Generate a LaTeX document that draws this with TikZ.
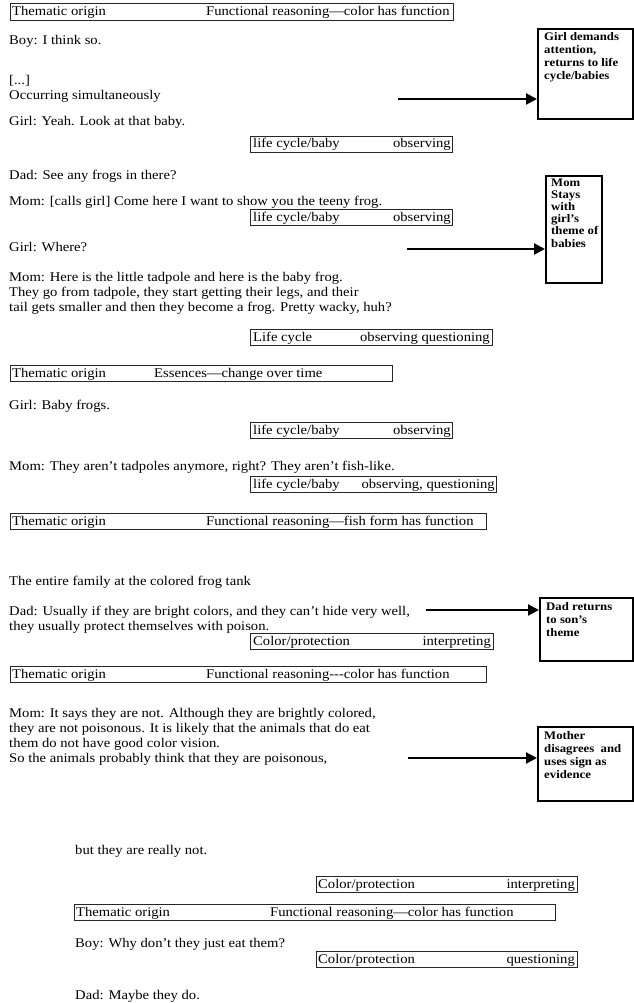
\documentclass[tikz,border=0pt]{standalone}
\usepackage{fontspec}
\setmainfont{Liberation Serif}[FakeStretch=1.1]
\usetikzlibrary{arrows.meta}
\newcommand\dlgfont{\fontsize{13.3}{15}\selectfont}
\newcommand\notefont{\fontsize{11.6}{13}\selectfont\bfseries}
\tikzset{
  dlg/.style={anchor=base west, inner sep=0pt, font=\dlgfont},
  tagbox/.style={draw=black!85, line width=0.9pt, anchor=north west, inner sep=0pt},
  tagl/.style={anchor=base west, inner sep=0pt, font=\dlgfont},
  tagr/.style={anchor=base east, inner sep=0pt, font=\dlgfont},
  notebox/.style={draw=black, line width=2pt, anchor=north west, inner sep=0pt},
  notetxt/.style={anchor=base west, inner sep=0pt, font=\notefont},
  arr/.style={line width=2.2pt, -{Triangle[length=11pt,width=11pt]}}
}
\begin{document}
\begin{tikzpicture}[x=1pt,y=-1pt]
\useasboundingbox (0,0) rectangle (633,1003);
\fill[white] (0,0) rectangle (633,1003);

% ---------- top thematic box
\node[tagbox, minimum width=443, minimum height=17] (t1) at (10,3) {};
\node[tagl] (t1a) at (12,16) {Thematic origin};
\node[tagl] (t1b) at (206,16) {Functional reasoning---color has function};

\node[dlg] (d1) at (9,45) {Boy: I think so.};
\node[dlg] (d2) at (9,85) {[...]};
\node[dlg] (d3) at (9,100) {Occurring simultaneously};

% note A
\node[notebox, minimum width=95, minimum height=90] (nA) at (537,28) {};
\node[notetxt] (nA1) at (544,41) {Girl demands};
\node[notetxt] (nA2) at (544,54) {attention,};
\node[notetxt] (nA3) at (544,67) {returns to life};
\node[notetxt] (nA4) at (544,80) {cycle/babies};
\coordinate (sA) at (398,99);
\draw[arr] (sA) -- (sA -| nA.west);

\node[dlg] (d4) at (9,126) {Girl: Yeah. Look at that baby.};
\node[tagbox, minimum width=202, minimum height=16] (l1) at (250,136) {};
\node[tagl] (l1a) at (253,148) {life cycle/baby};
\node[tagr] (l1b) at (451,148) {observing};

\node[dlg] (d5) at (9,179) {Dad: See any frogs in there?};
\node[dlg] (d6) at (9,205) {Mom: [calls girl] Come here I want to show you the teeny frog.};
\node[tagbox, minimum width=202, minimum height=16] (l2) at (250,209) {};
\node[tagl] (l2a) at (253,221) {life cycle/baby};
\node[tagr] (l2b) at (451,221) {observing};

% note B
\node[notebox, minimum width=56, minimum height=107] (nB) at (545,175) {};
\node[notetxt] (nB1) at (551,186) {Mom};
\node[notetxt] (nB2) at (551,198.2) {Stays};
\node[notetxt] (nB3) at (551,210.4) {with};
\node[notetxt] (nB4) at (551,222.6) {girl’s};
\node[notetxt] (nB5) at (551,234.8) {theme of};
\node[notetxt] (nB6) at (551,247) {babies};
\coordinate (sB) at (407,249);
\draw[arr] (sB) -- (sB -| nB.west);

\node[dlg] (d7) at (9,251) {Girl: Where?};
\node[dlg] (d8) at (9,281) {Mom: Here is the little tadpole and here is the baby frog.};
\node[dlg] (d9) at (9,296) {They go from tadpole, they start getting their legs, and their};
\node[dlg] (d10) at (9,311) {tail gets smaller and then they become a frog. Pretty wacky, huh?};

\node[tagbox, minimum width=242, minimum height=16] (lc) at (250,329) {};
\node[tagl] (lca) at (253,341) {Life cycle};
\node[tagr] (lcb) at (490,341) {observing questioning};

\node[tagbox, minimum width=382, minimum height=16] (t2) at (10,365) {};
\node[tagl] (t2a) at (12,377) {Thematic origin};
\node[tagl] (t2b) at (154,377) {Essences---change over time};

\node[dlg] (d11) at (9,409) {Girl: Baby frogs.};
\node[tagbox, minimum width=202, minimum height=16] (l3) at (250,422) {};
\node[tagl] (l3a) at (253,434) {life cycle/baby};
\node[tagr] (l3b) at (451,434) {observing};

\node[dlg] (d12) at (9,470) {Mom: They aren’t tadpoles anymore, right? They aren’t fish-like.};
\node[tagbox, minimum width=246, minimum height=16] (l4) at (250,476) {};
\node[tagl] (l4a) at (253,488) {life cycle/baby};
\node[tagr] (l4b) at (495,488) {observing, questioning};

\node[tagbox, minimum width=476, minimum height=16] (t3) at (10,513) {};
\node[tagl] (t3a) at (12,525) {Thematic origin};
\node[tagl] (t3b) at (206,525) {Functional reasoning---fish form has function};

\node[dlg] (d13) at (9,585) {The entire family at the colored frog tank};
\node[dlg] (d14) at (9,615) {Dad: Usually if they are bright colors, and they can’t hide very well,};
\node[dlg] (d15) at (9,630) {they usually protect themselves with poison.};

% note C
\node[notebox, minimum width=93, minimum height=63] (nC) at (539,597) {};
\node[notetxt] (nC1) at (546,610) {Dad returns};
\node[notetxt] (nC2) at (546,623) {to son’s};
\node[notetxt] (nC3) at (546,636) {theme};
\coordinate (sC) at (426,610);
\draw[arr] (sC) -- (sC -| nC.west);

\node[tagbox, minimum width=243, minimum height=16] (c1) at (250,633) {};
\node[tagl] (c1a) at (253,645) {Color/protection};
\node[tagr] (c1b) at (491,645) {interpreting};

\node[tagbox, minimum width=476, minimum height=16] (t4) at (10,666) {};
\node[tagl] (t4a) at (12,678) {Thematic origin};
\node[tagl] (t4b) at (206,678) {Functional reasoning-{}-{}-color has function};

\node[dlg] (d16) at (9,717) {Mom: It says they are not. Although they are brightly colored,};
\node[dlg] (d17) at (9,732) {they are not poisonous. It is likely that the animals that do eat};
\node[dlg] (d18) at (9,747) {them do not have good color vision.};
\node[dlg] (d19) at (9,762) {So the animals probably think that they are poisonous,};

% note D
\node[notebox, minimum width=95, minimum height=74] (nD) at (537,726) {};
\node[notetxt] (nD1) at (544,739) {Mother};
\node[notetxt] (nD2) at (544,752) {disagrees\ \ and};
\node[notetxt] (nD3) at (544,765) {uses sign as};
\node[notetxt] (nD4) at (544,778) {evidence};
\coordinate (sD) at (408,758);
\draw[arr] (sD) -- (sD -| nD.west);

\node[dlg] (d20) at (75,854) {but they are really not.};
\node[tagbox, minimum width=261, minimum height=16] (c2) at (316,876) {};
\node[tagl] (c2a) at (318,888) {Color/protection};
\node[tagr] (c2b) at (575,888) {interpreting};

\node[tagbox, minimum width=481, minimum height=16] (t5) at (74,904) {};
\node[tagl] (t5a) at (76,916) {Thematic origin};
\node[tagl] (t5b) at (270,916) {Functional reasoning---color has function};

\node[dlg] (d21) at (75,947) {Boy: Why don’t they just eat them?};
\node[tagbox, minimum width=261, minimum height=16] (c3) at (316,951) {};
\node[tagl] (c3a) at (318,963) {Color/protection};
\node[tagr] (c3b) at (575,963) {questioning};

\node[dlg] (d22) at (75,999) {Dad: Maybe they do.};
\end{tikzpicture}
\end{document}
